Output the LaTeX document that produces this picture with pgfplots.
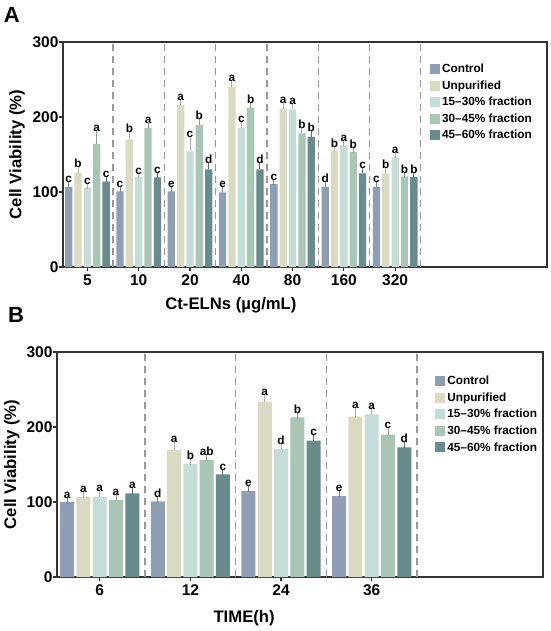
\documentclass[border=0pt]{standalone}
\usepackage{pgfplots}
\pgfplotsset{compat=1.18}
\usepackage{pgfplotstable}
\usepackage{fontspec}
\setmainfont{Liberation Sans}

\definecolor{cC}{HTML}{8E9FB4}
\definecolor{cU}{HTML}{DAD9C1}
\definecolor{cP}{HTML}{C5DDD9}
\definecolor{cQ}{HTML}{A9C5B4}
\definecolor{cR}{HTML}{688B8B}

\pgfplotstableread{
x c ce u ue p pe q qe r re lc lu lp lq lr
0 107 3 126 4 106 1.5 164 14 114 2.5 c b c a c
1 101 2 170 7 120 1.5 185.5 3.5 119.5 3 c b c a c
2 101 2 216 4 154 16 189 5 130 5 e a c b d
3 99.5 3.5 240.5 5 185 5 212.5 3 130 6 e a c b d
4 110.5 2.5 211 4 210 4.5 178 4 173 5 c a a b b
5 107 3 155 1.5 162 3 153 2 125 4 d b a b c
6 107 3.5 125 4 146 2.5 121 1.5 120 2 c b a b b
}\tabA

\pgfplotstableread{
x c ce u ue p pe q qe r re lc lu lp lq lr
0 100.3 1.3 106.6 3.4 106.6 4.4 103 3.6 111.5 4.5 a a a a a
1 100.8 2.2 169.4 7.6 150.7 3.3 156 3 137 3 d a b ab c
2 115 2.7 234 6 170.7 4 212.7 3 182 4 e a d b c
3 108 4 214 8.5 217 3.7 190 5 173 4 e a a c d
}\tabB

\newcommand{\series}[7]{%
  \addplot[fill=#2, draw=none, bar shift=#3,
    error bars/.cd, y dir=plus, y explicit, error mark=-,
    error bar style={draw=#2!80!black, line width=1pt},
    error mark options={draw=#2!80!black, line width=1pt, mark size=#7}]
    table[x=x, y=#4, y error=#5] {#1};
  \addplot[draw=none, fill=none, bar shift=#3, forget plot,
    nodes near coords, point meta=explicit symbolic,
    nodes near coords style={font=\bfseries\fontsize{11.8}{12}\selectfont, anchor=south, inner sep=1.5pt, text=black}]
    table[x=x, y expr=\thisrow{#4}+\thisrow{#5}, meta=#6] {#1};
}

\pgfplotsset{panel/.style={
  scale only axis, ybar, ymin=0, ymax=300, ytick={0,100,200,300},
  enlarge x limits=false,
  axis line style={line width=1.2pt, draw=black!80},
  every tick/.style={line width=1.2pt, draw=black!80},
  major tick length=4pt, tick align=outside,
  xtick pos=bottom, ytick pos=left,
  /pgf/number format/assume math mode=true,
  ticklabel style={font=\bfseries\fontsize{15.5}{16}\selectfont},
  yticklabel style={xshift=3pt},
  label style={font=\bfseries\fontsize{16.7}{18}\selectfont},
  extra x tick style={grid=major, major tick length=0pt,
    major grid style={draw=black!40, line width=1.2pt, dash pattern=on 7pt off 5pt}},
  legend style={draw=none, fill=none, font=\bfseries\fontsize{11.8}{13}\selectfont,
    anchor=north west, row sep=2.5pt, inner sep=0pt},
  legend cell align=left,
  legend image code/.code={\fill[##1] (0pt,-5pt) rectangle (10pt,5pt);},
  ylabel={Cell Viability (\%)},
}}

\begin{document}
\begin{tikzpicture}
\path[use as bounding box] (0,0) rectangle (550pt,-631pt);

\begin{axis}[panel, at={(63pt,-267pt)}, anchor=south west, width=484pt, height=225pt,
  bar width=7.3pt, xmin=-0.476, xmax=8.96, xtick={0,...,6},
  xticklabels={5,10,20,40,80,160,320},
  extra x ticks={0.5,1.5,2.5,3.5,4.5,5.5,6.5}, extra x tick labels={},
  xlabel={Ct-ELNs (µg/mL)},
  xlabel style={at={(axis description cs:0.347,-0.169)}, anchor=center},
  ylabel style={at={(axis description cs:-0.095,0.5)}, anchor=center},
  legend style={at={(axis description cs:0.758,0.911)}}]
\series{\tabA}{cC}{-18.7pt}{c}{ce}{lc}{2.5pt}
\series{\tabA}{cU}{-9.35pt}{u}{ue}{lu}{2.5pt}
\series{\tabA}{cP}{0pt}{p}{pe}{lp}{2.5pt}
\series{\tabA}{cQ}{9.35pt}{q}{qe}{lq}{2.5pt}
\series{\tabA}{cR}{18.7pt}{r}{re}{lr}{2.5pt}
\legend{Control,Unpurified,15--30\% fraction,30--45\% fraction,45--60\% fraction}
\end{axis}

\begin{axis}[panel, at={(57pt,-577pt)}, anchor=south west, width=486pt, height=225pt,
  bar width=14pt, xmin=-0.471, xmax=4.889, xtick={0,...,3},
  xticklabels={6,12,24,36},
  extra x ticks={0.5,1.5,2.5,3.5}, extra x tick labels={},
  xlabel={TIME(h)},
  xlabel style={at={(axis description cs:0.385,-0.182)}, anchor=center},
  ylabel style={at={(axis description cs:-0.093,0.5)}, anchor=center},
  legend style={at={(axis description cs:0.778,0.902)}}]
\series{\tabB}{cC}{-32.6pt}{c}{ce}{lc}{3.5pt}
\series{\tabB}{cU}{-16.3pt}{u}{ue}{lu}{3.5pt}
\series{\tabB}{cP}{0pt}{p}{pe}{lp}{3.5pt}
\series{\tabB}{cQ}{16.3pt}{q}{qe}{lq}{3.5pt}
\series{\tabB}{cR}{32.6pt}{r}{re}{lr}{3.5pt}
\legend{Control,Unpurified,15--30\% fraction,30--45\% fraction,45--60\% fraction}
\end{axis}

\node[font=\bfseries\fontsize{22}{22}\selectfont] at (11.7pt,-14.5pt) {A};
\node[font=\bfseries\fontsize{22}{22}\selectfont] at (16pt,-314.5pt) {B};
\end{tikzpicture}
\end{document}
